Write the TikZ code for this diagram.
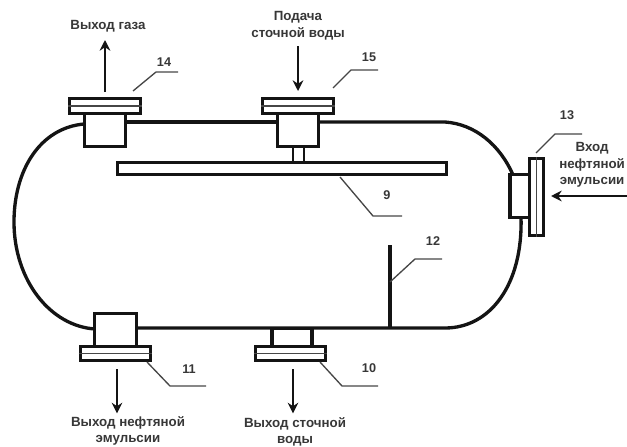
\documentclass[tikz,border=0pt]{standalone}
\usepackage{fontspec}
\setmainfont{Liberation Sans}
\usetikzlibrary{arrows.meta, positioning, calc}
\definecolor{inkBlack}{RGB}{20, 20, 20}
\definecolor{leaderGray}{RGB}{70, 70, 70}
\begin{document}
\begin{tikzpicture}[
        x=0.75pt, y=-0.75pt,
        font=\bfseries\fontsize{10}{12.4}\selectfont,
        shell/.style={draw=inkBlack, line width=2.5pt},
        neck/.style={rectangle, draw=inkBlack, line width=2.3pt, fill=white, inner sep=0pt},
        flange/.style={rectangle, draw=inkBlack, line width=2.3pt, fill=white, inner sep=0pt, minimum width=53pt, minimum height=11pt},
        flangeV/.style={rectangle, draw=inkBlack, line width=2.3pt, fill=white, inner sep=0pt, minimum width=11pt, minimum height=58pt},
        plate/.style={rectangle, draw=inkBlack, line width=2.3pt, fill=white, inner sep=0pt, minimum width=247pt, minimum height=9pt},
        flow/.style={-{Stealth[length=8pt, width=8pt]}, draw=inkBlack, line width=2pt},
        leader/.style={draw=leaderGray, line width=1pt},
        caption/.style={text=inkBlack!85, align=center, inner sep=0pt},
        tag/.style={text=inkBlack!85, inner sep=0pt, font=\bfseries\fontsize{9.5}{11}\selectfont}
    ]
        \useasboundingbox (0,0) rectangle (627,446);

        \draw[shell] (84,124) .. controls (40,128) and (14,170) .. (14,222) .. controls (14,280) and (50,326) .. (95,329);
        \draw[shell] (126,122) -- (277,122);
        \draw[shell] (318,122) -- (445,122) .. controls (475,124) and (500,145) .. (513,175);
        \draw[shell] (521,217) .. controls (523,285) and (490,328) .. (445,328) -- (136,328);

        \node[neck, minimum width=31pt, minimum height=25pt] (neck14) at (105,130) {};
        \node[flange] (flange14) at (105,106) {};
        \draw[leaderGray, line width=0.9pt] (flange14.west) -- (flange14.east);

        \node[neck, minimum width=31pt, minimum height=25pt] (neck15) at (298,130) {};
        \node[flange] (flange15) at (298,106) {};
        \draw[leaderGray, line width=0.9pt] (flange15.west) -- (flange15.east);

        \node[plate] (plate9) at (282,168.5) {};
        \draw[inkBlack, line width=1.8pt] (293,147) -- (293,162);
        \draw[inkBlack, line width=1.8pt] (304,147) -- (304,162);

        \node[neck, minimum width=15pt, minimum height=32pt] (neck13) at (520,196) {};
        \node[flangeV] (flange13) at (536.5,197) {};
        \draw[leaderGray, line width=0.9pt] (flange13.north) -- (flange13.south);

        \node[neck, minimum width=31pt, minimum height=25pt] (neck11) at (115.5,330.5) {};
        \node[flange] (flange11) at (115.5,353.5) {};
        \draw[leaderGray, line width=0.9pt] (flange11.west) -- (flange11.east);

        \node[neck, minimum width=30pt, minimum height=14pt] (neck10) at (292,337.5) {};
        \node[flange] (flange10) at (290.5,353.5) {};
        \draw[leaderGray, line width=0.9pt] (flange10.west) -- (flange10.east);

        \coordinate (baffletop) at (390,245);
        \coordinate (bafflefoot) at (390,328);
        \draw[inkBlack, line width=3pt] (baffletop) -- (bafflefoot);

        \node[caption] (gasout) at (108,26) {Выход газа};
        \node[caption] (waterin) at (298,26) {Подача\\сточной воды};
        \node[caption, anchor=west] (emulsionin) at (559,165) {Вход\\нефтяной\\эмульсии};
        \node[caption] (emulsionout) at (128,431) {Выход нефтяной\\эмульсии};
        \node[caption] (waterout) at (295,432) {Выход сточной\\воды};

        \coordinate (gasstart) at (105,92);
        \coordinate (gasend) at (105,40);
        \coordinate (waterstart) at (298,46);
        \coordinate (waterend) at (298,91);
        \coordinate (emulstart) at (627,196);
        \coordinate (emulend) at (551,196);
        \draw[flow] (gasstart) -- (gasend);
        \draw[flow] (waterstart) -- (waterend);
        \draw[flow] (emulstart) -- (emulend);
        \draw[flow] ($(flange11.south)+(1.5,7)$) -- ++(0,44);
        \draw[flow] ($(flange10.south)+(2.5,7)$) -- ++(0,44);

        \node[tag] (tag14) at (164,62) {14};
        \node[tag] (tag15) at (369,57) {15};
        \node[tag] (tag13) at (567,115) {13};
        \node[tag] (tag12) at (433,241) {12};
        \node[tag] (tag11) at (189,369) {11};
        \node[tag] (tag10) at (369,368) {10};
        \node[tag] (tag9) at (387,195) {9};

        \draw[leader] (133,91) -- (156,72) -- (178,72);
        \draw[leader] (333,88) -- (351,70) -- (378,70);
        \draw[leader] (536,153) -- (555,134) -- (582,134);
        \draw[leader] (390,282) -- (415,259) -- (442,259);
        \draw[leader] (147,362) -- (170,386) -- (206,386);
        \draw[leader] (320,362) -- (342,386) -- (378,386);
        \draw[leader] (340,177) -- (373,216) -- (402,216);
    \end{tikzpicture}
\end{document}
